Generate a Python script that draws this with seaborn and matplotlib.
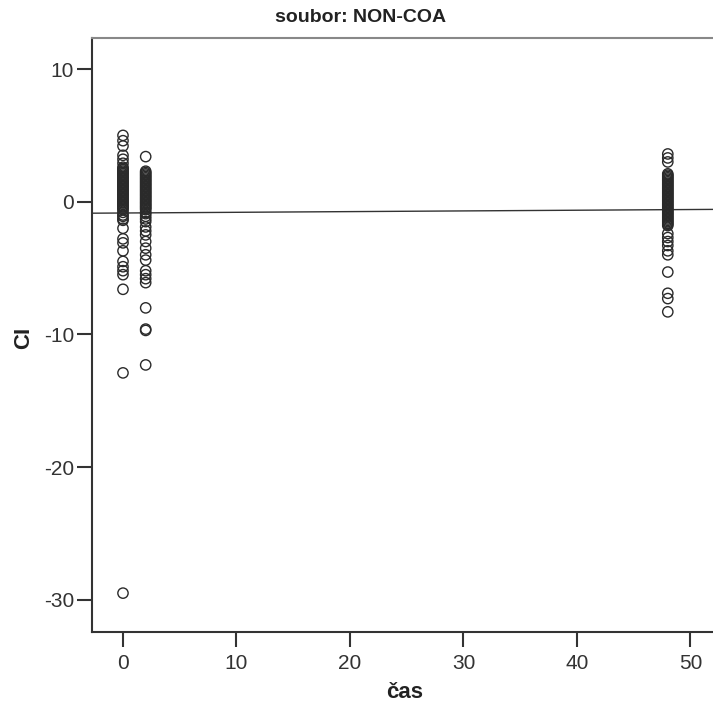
import matplotlib
matplotlib.use("Agg")
import matplotlib.pyplot as plt
import seaborn as sns
import pandas as pd

# data (dense, overlapping columns)
cas_0 = [5.0, 4.6, 4.2, 3.5, 3.2, 2.9, 2.5, 2.1, 1.8, 1.5, 1.2, 0.8, 0.5, 0.2, 0.0,
         -0.3, -0.6, -1.0, -1.3, -2.0, -2.8, -3.1, -3.7, -4.5, -4.9, -5.2, -5.5,
         -6.6, -12.9, -29.5,
         2.6, 2.4, 2.3, 2.2, 2.0, 1.9, 1.7, 1.6, 1.4, 1.3, 1.1, 1.0, 0.9, 0.7, 0.6,
         0.4, 0.3, 0.1, -0.1, -0.2, -0.4, -0.5, -0.8, -1.1, -1.4]
cas_2 = [3.4, 2.3, 2.0, 1.7, 1.4, 1.1, 0.8, 0.5, 0.2, -0.2, -0.5, -0.8, -1.1, -1.5,
         -1.9, -2.2, -2.5, -3.0, -3.5, -4.0, -4.4, -5.2, -5.5, -5.8, -6.1, -8.0,
         -9.6, -9.7, -12.3,
         2.2, 2.1, 1.9, 1.8, 1.6, 1.5, 1.3, 1.2, 1.0, 0.9, 0.7, 0.6, 0.4, 0.3, 0.1,
         0.0, -0.1, -0.3, -0.4, -0.6, -0.9, -1.3]
cas_48 = [3.6, 3.3, 3.0, 2.1, 1.8, 1.5, 1.2, 0.9, 0.6, 0.3, 0.0, -0.3, -0.6, -0.9,
          -1.2, -1.5, -1.8, -2.4, -2.7, -3.0, -3.3, -3.7, -4.0, -5.3, -6.9, -7.3, -8.3,
          2.0, 1.9, 1.7, 1.6, 1.4, 1.3, 1.1, 1.0, 0.8, 0.7, 0.5, 0.4, 0.2, 0.1,
          -0.1, -0.2, -0.4, -0.5, -0.7, -0.8, -1.0, -1.1, -1.3, -1.4, -1.6, -1.7]
times = [0, 2, 48]
x_ticks = [0, 10, 20, 30, 40, 50]
y_ticks = [10, 0, -10, -20, -30]
title = "soubor: NON-COA"
x_label = "čas"
y_label = "CI"

df = pd.DataFrame({
    "cas": [times[0]] * len(cas_0) + [times[1]] * len(cas_2) + [times[2]] * len(cas_48),
    "CI": cas_0 + cas_2 + cas_48,
})

sns.set_style("white")
plt.rcParams["font.family"] = ["Liberation Sans", "DejaVu Sans"]
plt.rcParams["axes.unicode_minus"] = False

W, H = 713, 705
fig = plt.figure(figsize=(W / 100, H / 100), dpi=100)
ax = fig.add_axes([92 / W, 1 - 632 / H, (720 - 92) / W, (632 - 38) / H])
ax.set_xlim(-2.73, 52.6)
ax.set_ylim(-32.43, 12.34)

sns.scatterplot(data=df, x="cas", y="CI", ax=ax, marker="o", s=55,
                facecolor="none", edgecolor="#2a2a2a", linewidth=1.0, zorder=3)
sns.regplot(data=df, x="cas", y="CI", ax=ax, scatter=False, ci=None, truncate=False,
            line_kws=dict(color="#333333", linewidth=1.0, zorder=2))

ax.set_xlim(-2.73, 52.6)
ax.set_ylim(-32.43, 12.34)
ax.set_xticks(x_ticks)
ax.set_yticks(y_ticks)
ax.tick_params(axis="both", direction="out", length=11, width=1.5, color="#333333",
               labelsize=15, labelcolor="#333333", left=True, bottom=True)
ax.tick_params(axis="y", pad=2)
ax.tick_params(axis="x", pad=5)
for s in ["left", "bottom"]:
    ax.spines[s].set_color("#333333")
    ax.spines[s].set_linewidth(1.5)
ax.spines["top"].set_color("#888888")
ax.spines["top"].set_linewidth(1.5)
ax.spines["right"].set_visible(False)

ax.set_xlabel("")
ax.set_ylabel("")
fig.text(405 / W, 1 - 693 / H, x_label, fontsize=16, fontweight="bold",
         ha="center", va="center", color="#222222")
fig.text(24 / W, 1 - 338 / H, y_label, fontsize=16, fontweight="bold", rotation=90,
         ha="center", va="center", color="#222222")
fig.text(361 / W, 1 - 18 / H, title, fontsize=14, fontweight="bold",
         ha="center", va="center", color="#222222")

fig.savefig("out.png", dpi=100)
